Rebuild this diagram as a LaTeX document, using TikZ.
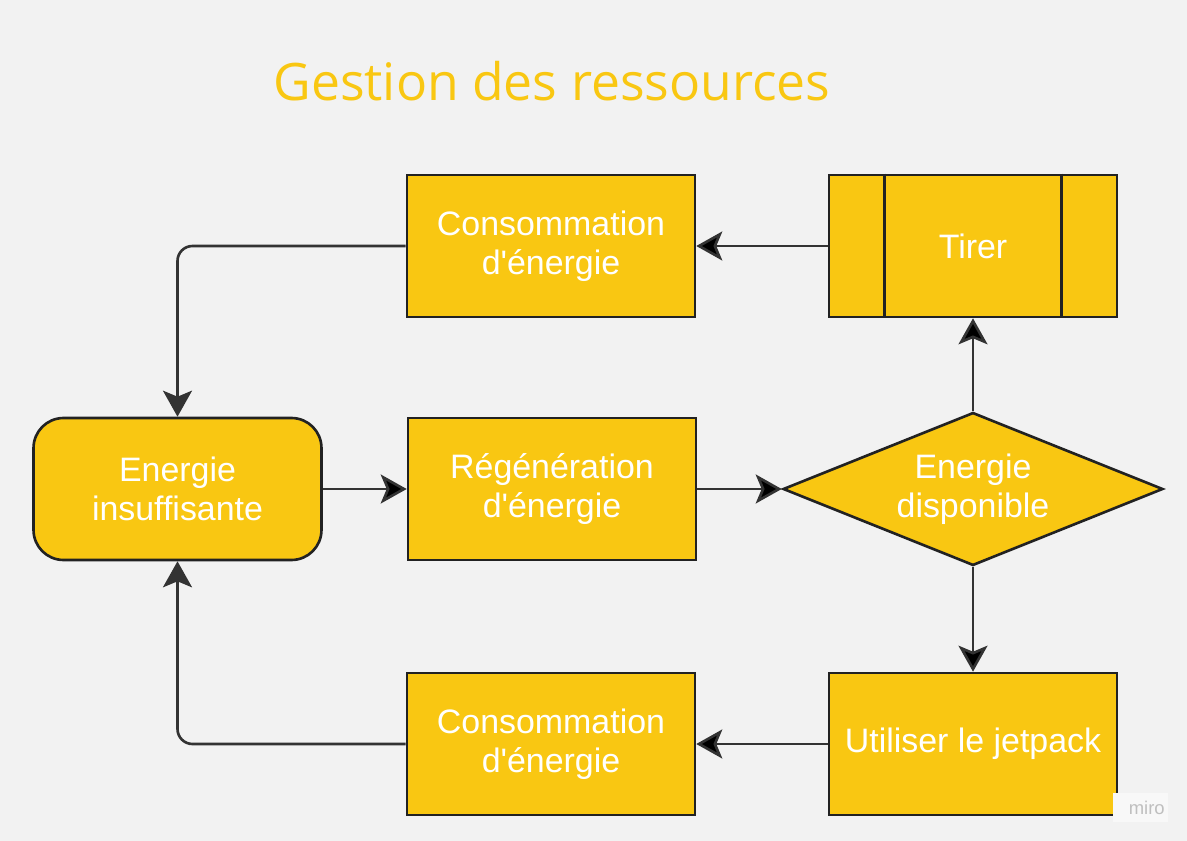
\documentclass[tikz,border=0pt]{standalone}
\usepackage{fontspec}
\setmainfont{Liberation Sans}
\newfontfamily\titrefont{Open Sans}
\usetikzlibrary{shapes.geometric,arrows.meta}
\definecolor{fond}{HTML}{F2F2F2}
\definecolor{jaune}{HTML}{F9C712}
\definecolor{trait}{HTML}{222222}
\definecolor{fleche}{HTML}{333333}

\tikzset{
	boite/.style={draw=trait, line width=1.5pt, fill=jaune, text=white, align=center,
		minimum width=5.76cm, minimum height=2.84cm, inner sep=0pt,
		font=\fontsize{19.3}{22.2}\selectfont},
	arrondi/.style={boite, rounded corners=0.6cm},
	losange/.style={boite, diamond, aspect=2.5, minimum width=7.6cm, minimum height=3.06cm},
	lien/.style={draw=fleche, line width=1.5pt, -{Stealth[length=5.2mm, width=5.8mm, inset=1.2mm]}}
}

\begin{document}
\begin{tikzpicture}[x=0.02cm, y=-0.02cm]
		\fill[fond] (0,0) rectangle (1187,841);
		\useasboundingbox (0,0) rectangle (1187,841);
		\node[text=jaune, font=\titrefont\fontsize{29.4}{35}\selectfont, anchor=base] (titre) at (552,101) {Gestion des ressources};
		\node[boite] (conso1) at (551,246) {Consommation\\d\textquotesingle énergie};
		\node[boite] (tirer) at (973,246) {Tirer};
		\draw[trait, line width=1.5pt] ([xshift=1.14cm]tirer.north west) -- ([xshift=1.14cm]tirer.south west);
		\draw[trait, line width=1.5pt] ([xshift=-1.14cm]tirer.north east) -- ([xshift=-1.14cm]tirer.south east);
		\node[arrondi] (insuf) at (177.5,489) {Energie\\insuffisante};
		\node[boite] (regen) at (552,489) {Régénération\\d\textquotesingle énergie};
		\node[losange] (dispo) at (973,489) {Energie\\disponible};
		\node[boite] (conso2) at (551,744) {Consommation\\d\textquotesingle énergie};
		\node[boite] (jetpack) at (973,744) {Utiliser le jetpack};
		\node[fill=fond!50!white, text=black!25, minimum width=1.1cm, minimum height=0.58cm, inner sep=0pt, font=\fontsize{10.5}{12}\selectfont] (miro) at (1140.5,807.5) {\hspace{0.25cm}miro};
		% liens
		\draw[lien, rounded corners=0.3cm] (conso1.west) -| (insuf.north);
		\draw[lien, rounded corners=0.3cm] (conso2.west) -| (insuf.south);
		\path[lien]
		(tirer) edge (conso1)
		(insuf) edge (regen)
		(regen) edge (dispo)
		(dispo) edge (tirer)
		(dispo) edge (jetpack)
		(jetpack) edge (conso2);
\end{tikzpicture}
\end{document}
